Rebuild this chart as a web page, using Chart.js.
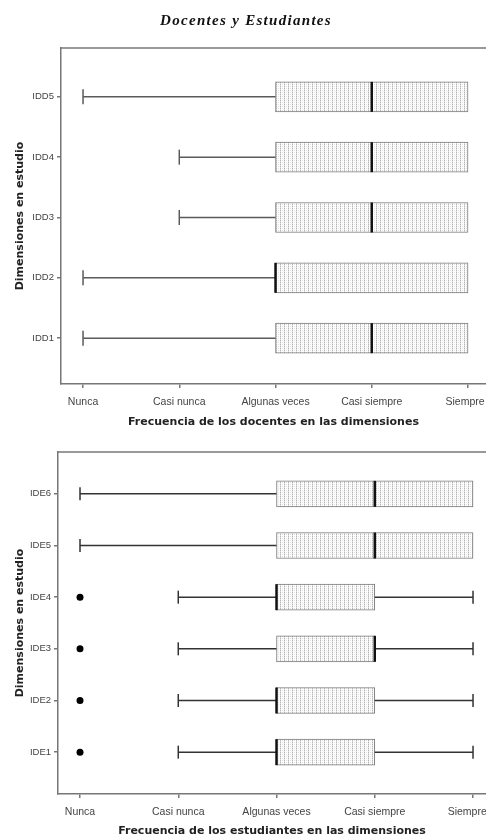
<!DOCTYPE html>
<html>
<head>
<meta charset="utf-8">
<script src="https://cdn.jsdelivr.net/npm/chart.js@4.4.0/dist/chart.umd.min.js"></script>
<style>
  html, body { margin: 0; padding: 0; background: #fff; }
  #page { position: relative; width: 486px; height: 839px; overflow: hidden; }
  .box { position: absolute; left: 0; width: 486px; }
  #title { position: absolute; top: 12px; left: 0; width: 492px; text-align: center;
           font: italic bold 15px "Liberation Serif"; letter-spacing: 1.3px; color: #111; }
</style>
</head>
<body>
<div id="page">
  <div class="box" style="top:0;height:430px"><canvas id="c1"></canvas></div>
  <div class="box" style="top:430px;height:409px"><canvas id="c2"></canvas></div>
  <div id="title">Docentes y Estudiantes</div>
</div>
<script>
// escala de frecuencia (eje x)
const frecuencias = ['Nunca', 'Casi nunca', 'Algunas veces', 'Casi siempre', 'Siempre'];

// docentes
const docLabels = ['IDD1', 'IDD2', 'IDD3', 'IDD4', 'IDD5'];
const docMin = [1, 1, 2, 2, 1];
const docQ1  = [3, 3, 3, 3, 3];
const docMed = [4, 3, 4, 4, 4];
const docQ3  = [5, 5, 5, 5, 5];
const docMax = [5, 5, 5, 5, 5];
const docOut = [[], [], [], [], []];

// estudiantes
const estLabels = ['IDE1', 'IDE2', 'IDE3', 'IDE4', 'IDE5', 'IDE6'];
const estMin = [2, 2, 2, 2, 1, 1];
const estQ1  = [3, 3, 3, 3, 3, 3];
const estMed = [3, 3, 4, 3, 4, 4];
const estQ3  = [4, 4, 4, 4, 5, 5];
const estMax = [5, 5, 5, 5, 5, 5];
const estOut = [[1], [1], [1], [1], [], []];

function dotPattern() {
  const c = document.createElement('canvas');
  c.width = 4; c.height = 2;
  const g = c.getContext('2d');
  g.fillStyle = '#fdfdfd'; g.fillRect(0, 0, 4, 2);
  g.fillStyle = '#b4b4b4'; g.fillRect(0, 0, 1, 1);
  g.fillStyle = '#dcdcdc'; g.fillRect(0, 1, 1, 1);
  g.fillStyle = '#e4e4e4'; g.fillRect(2, 0, 1, 1);
  return g.createPattern(c, 'repeat');
}

// bigotes, medianas, atipicos y marco superior
const boxExtras = {
  id: 'boxExtras',
  afterDatasetsDraw(chart, args, o) {
    const { ctx, chartArea: a, scales: { x, y } } = chart;
    const bars = chart.getDatasetMeta(0).data;
    const seg = (x1, y1, x2, y2) => { ctx.beginPath(); ctx.moveTo(x1, y1); ctx.lineTo(x2, y2); ctx.stroke(); };
    ctx.save();
    ctx.strokeStyle = '#777'; ctx.lineWidth = 1.5;
    seg(a.left, a.top, a.right, a.top);
    o.min.forEach((mn, i) => {
      const yc = y.getPixelForValue(i + 1);
      const h = bars[i].height;
      const px = v => x.getPixelForValue(v);
      ctx.strokeStyle = o.whisker; ctx.lineWidth = 1.5;
      if (mn < o.q1[i]) { seg(px(mn), yc, px(o.q1[i]), yc); seg(px(mn), yc - h / 4, px(mn), yc + h / 4); }
      if (o.max[i] > o.q3[i]) { seg(px(o.q3[i]), yc, px(o.max[i]), yc); seg(px(o.max[i]), yc - h / 4, px(o.max[i]), yc + h / 4); }
      ctx.strokeStyle = '#111'; ctx.lineWidth = 2.5;
      seg(px(o.med[i]), yc - h / 2, px(o.med[i]), yc + h / 2);
      ctx.fillStyle = '#000';
      o.out[i].forEach(v => { ctx.beginPath(); ctx.arc(px(v), yc, 3.5, 0, Math.PI * 2); ctx.fill(); });
    });
    ctx.restore();
  }
};

function boxChart(id, labels, q1, q3, extras, opt) {
  const tickFont = { family: 'Liberation Sans', size: 10.5 };
  const last = frecuencias.length - 1;
  return new Chart(document.getElementById(id), {
    type: 'bar',
    data: {
      datasets: [{
        data: q1.map((v, i) => ({ y: i + 1, x: [v, q3[i]] })),
        backgroundColor: dotPattern(),
        borderColor: '#7a7a7a',
        borderWidth: 1,
        borderSkipped: false,
        barThickness: opt.bar
      }]
    },
    options: {
      indexAxis: 'y',
      responsive: true,
      maintainAspectRatio: false,
      animation: false,
      layout: { padding: { top: opt.top, left: 0, right: 0, bottom: 0 } },
      plugins: { legend: { display: false }, tooltip: { enabled: false }, boxExtras: extras },
      scales: {
        x: {
          type: 'linear', min: opt.xmin, max: opt.xmax,
          afterBuildTicks: s => { s.ticks = frecuencias.map((_, i) => ({ value: i + 1 })); },
          afterFit: s => { s.height = opt.xh; s.paddingLeft = 0; s.paddingRight = 0; },
          // la ultima etiqueta se corre un poco a la izquierda para que quepa
          ticks: { callback: (v, i) => i === last ? frecuencias[i] + '\u00a0'.repeat(opt.shift) : frecuencias[i],
                   autoSkip: false, maxRotation: 0, font: tickFont, color: '#444', padding: 8 },
          grid: { drawOnChartArea: false, tickLength: 4, color: '#777', lineWidth: 1.5 },
          border: { color: '#777', width: 1.5 },
          title: { display: true, text: opt.xtitle, color: '#222',
                   font: { family: 'DejaVu Sans', weight: 'bold', size: 11 }, padding: { top: 2, bottom: 1 } }
        },
        y: {
          type: 'linear', min: opt.ymin, max: opt.ymax, offset: false,
          afterBuildTicks: s => { s.ticks = labels.map((_, i) => ({ value: i + 1 })); },
          afterFit: s => { s.width = opt.yw; s.paddingTop = 0; s.paddingBottom = 0; },
          ticks: { callback: (v, i) => labels[i], autoSkip: false,
                   font: { family: 'Liberation Sans', size: 9.5 }, color: '#444', padding: 3 },
          grid: { offset: false, drawOnChartArea: false, tickLength: 4, color: '#777', lineWidth: 1.5 },
          border: { color: '#777', width: 1.5 },
          title: { display: true, text: 'Dimensiones en estudio', color: '#222',
                   font: { family: 'DejaVu Sans', weight: 'bold', size: 11 }, padding: { top: 14, bottom: 0 } }
        }
      }
    },
    plugins: [boxExtras]
  });
}

boxChart('c1', docLabels, docQ1, docQ3,
  { min: docMin, q1: docQ1, med: docMed, q3: docQ3, max: docMax, out: docOut, whisker: '#5a5a5a' },
  { top: 48, bar: 30, xmin: 0.771, xmax: 5.187, ymin: 0.24, ymax: 5.81, xh: 46, yw: 61, shift: 2,
    xtitle: 'Frecuencia de los docentes en las dimensiones' });

boxChart('c2', estLabels, estQ1, estQ3,
  { min: estMin, q1: estQ1, med: estMed, q3: estQ3, max: estMax, out: estOut, whisker: '#333' },
  { top: 22, bar: 26, xmin: 0.776, xmax: 5.132, ymin: 0.19, ymax: 6.81, xh: 45, yw: 58, shift: 4,
    xtitle: 'Frecuencia de los estudiantes en las dimensiones' });
</script>
</body>
</html>
